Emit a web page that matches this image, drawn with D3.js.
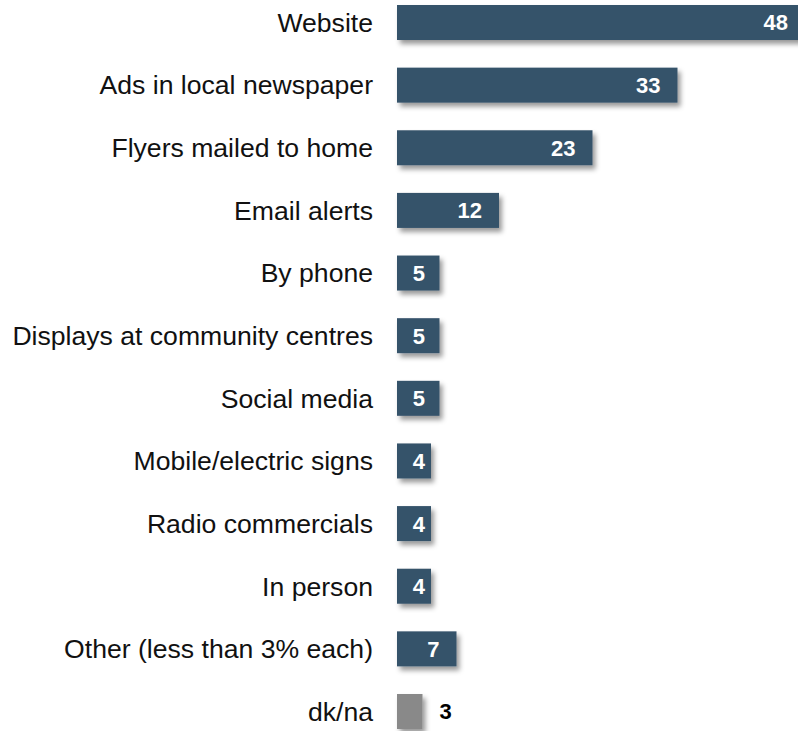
<!DOCTYPE html>
<html><head><meta charset="utf-8">
<script src="https://cdn.jsdelivr.net/npm/d3@7"></script>
<style>body{margin:0;background:#fff;overflow:hidden;}svg{display:block;}</style>
</head><body>
<script>
const categories = ["Website","Ads in local newspaper","Flyers mailed to home","Email alerts","By phone","Displays at community centres","Social media","Mobile/electric signs","Radio commercials","In person","Other (less than 3% each)","dk/na"];
const values = [48,33,23,12,5,5,5,4,4,4,7,3];
const highlight = ["dk/na"];

const W=798,H=731;
const svg=d3.select("body").append("svg").attr("width",W).attr("height",H);
const defs=svg.append("defs");
const f=defs.append("filter").attr("id","sh").attr("x","-20%").attr("y","-30%").attr("width","150%").attr("height","180%");
f.append("feDropShadow").attr("dx",3).attr("dy",4).attr("stdDeviation",2.5).attr("flood-color","#000").attr("flood-opacity",0.4);

const x=d3.scaleLinear().domain([0,48]).range([397,805]);
const y=d3.scaleBand().domain(categories).range([5,729]).paddingInner(0.441).paddingOuter(0);

const font="Liberation Sans, Arial, sans-serif";
const g=svg.append("g");
g.selectAll("rect").data(categories).join("rect")
 .attr("x",x(0)).attr("y",d=>y(d)).attr("width",(d,i)=>x(values[i])-x(0)).attr("height",y.bandwidth())
 .attr("fill",d=>highlight.includes(d)?"#898989":"#36536b").attr("filter","url(#sh)");

g.selectAll("text.cat").data(categories).join("text").attr("class","cat")
 .attr("x",373).attr("y",d=>y(d)+y.bandwidth()/2).attr("dy","0.35em").attr("text-anchor","end")
 .attr("font-family",font).attr("font-size",26.6).attr("fill","#111").text(d=>d);

g.selectAll("text.val").data(categories).join("text").attr("class","val")
 .attr("x",(d,i)=>highlight.includes(d)?x(values[i])+17:Math.max(x(values[i])-17,x(0)+28))
 .attr("y",d=>y(d)+y.bandwidth()/2).attr("dy","0.36em")
 .attr("text-anchor",d=>highlight.includes(d)?"start":"end")
 .attr("font-family",font).attr("font-size",22).attr("font-weight","bold")
 .attr("fill",d=>highlight.includes(d)?"#000":"#fff").text((d,i)=>values[i]);
</script>
</body></html>
